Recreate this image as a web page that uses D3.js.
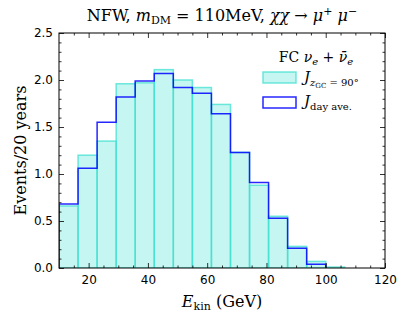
<!DOCTYPE html>
<html>
<head>
<meta charset="utf-8">
<script src="https://cdn.jsdelivr.net/npm/d3@7"></script>
<style>
  body { margin: 0; background: #fff; }
  svg text { fill: #000; }
  .serif { font-family: "DejaVu Serif", "Liberation Serif", serif; }
  .tick text { font-family: "DejaVu Sans", sans-serif; font-size: 12px; }
</style>
</head>
<body>
<div id="chart"></div>
<script>
// bin edges in GeV (15 bins)
const binEdges = [10, 16.43, 22.86, 29.29, 35.71, 42.14, 48.57, 55, 61.43, 67.86, 74.29, 80.71, 87.14, 93.57, 100, 106.43];
// events / 20 years, J at zGC = 90 deg (filled)
const eventsZgc90 = [0.66, 1.20, 1.35, 1.96, 1.97, 2.11, 2.00, 1.92, 1.74, 1.23, 0.88, 0.55, 0.23, 0.07, 0.01];
// events / 20 years, day averaged J (step)
const eventsDayAve = [0.68, 1.06, 1.55, 1.82, 1.99, 2.07, 1.92, 1.86, 1.64, 1.23, 0.91, 0.53, 0.21, 0.04];
const xMajorTicks = [20, 40, 60, 80, 100, 120];
const xMinorTicks = [15, 25, 30, 35, 45, 50, 55, 65, 70, 75, 85, 90, 95, 105, 110, 115];
const yMajorTicks = [0, 0.5, 1.0, 1.5, 2.0, 2.5];
const yMinorTicks = [0.1, 0.2, 0.3, 0.4, 0.6, 0.7, 0.8, 0.9, 1.1, 1.2, 1.3, 1.4, 1.6, 1.7, 1.8, 1.9, 2.1, 2.2, 2.3, 2.4];

const width = 407, height = 320;
const margin = { top: 33, right: 22, bottom: 52, left: 59 };
const innerW = width - margin.left - margin.right;
const innerH = height - margin.top - margin.bottom;

const cyanFill = '#40e0d0';
const blueLine = '#0000ff';

const svg = d3.select('#chart').append('svg')
    .attr('width', width)
    .attr('height', height);

const x = d3.scaleLinear().domain([10, 120]).range([0, innerW]);
const y = d3.scaleLinear().domain([0, 2.5]).range([innerH, 0]);

const g = svg.append('g')
    .attr('transform', `translate(${margin.left},${margin.top})`);

g.append('clipPath').attr('id', 'plotClip')
    .append('rect').attr('width', innerW).attr('height', innerH);

const plot = g.append('g').attr('clip-path', 'url(#plotClip)');

// filled histogram
plot.selectAll('.bar')
    .data(eventsZgc90)
    .join('rect')
    .attr('class', 'bar')
    .attr('x', (d, i) => x(binEdges[i]))
    .attr('width', (d, i) => x(binEdges[i + 1]) - x(binEdges[i]))
    .attr('y', d => y(d))
    .attr('height', d => y(0) - y(d))
    .attr('fill', cyanFill)
    .attr('fill-opacity', 0.3)
    .attr('stroke', cyanFill)
    .attr('stroke-opacity', 0.75)
    .attr('stroke-width', 1.5);

// step histogram
const stepPts = [[binEdges[0], 0]];
eventsDayAve.forEach((v, i) => stepPts.push([binEdges[i], v]));
const nB = eventsDayAve.length;
stepPts.push([binEdges[nB], eventsDayAve[nB - 1]]);
stepPts.push([binEdges[nB], 0]);

const stepLine = d3.line()
    .x(d => x(d[0]))
    .y(d => y(d[1]))
    .curve(d3.curveStepAfter);

plot.append('path')
    .datum(stepPts)
    .attr('fill', 'none')
    .attr('stroke', blueLine)
    .attr('stroke-opacity', 0.85)
    .attr('stroke-width', 1.5)
    .attr('d', stepLine);

// axes, ticks inward on all sides
function styleAxis(sel) {
    sel.select('.domain').remove();
    sel.selectAll('.tick line').attr('stroke', '#000').attr('stroke-width', 0.8);
}
g.append('g').attr('transform', `translate(0,${innerH})`)
    .call(d3.axisBottom(x).tickValues(xMajorTicks).tickSize(-5).tickPadding(7).tickFormat(d3.format('d')))
    .call(styleAxis);
g.append('g').attr('transform', `translate(0,${innerH})`)
    .call(d3.axisBottom(x).tickValues(xMinorTicks).tickSize(-2.5).tickFormat(''))
    .call(styleAxis);
g.append('g')
    .call(d3.axisTop(x).tickValues(xMajorTicks).tickSize(-5).tickFormat(''))
    .call(styleAxis);
g.append('g')
    .call(d3.axisTop(x).tickValues(xMinorTicks).tickSize(-2.5).tickFormat(''))
    .call(styleAxis);
g.append('g')
    .call(d3.axisLeft(y).tickValues(yMajorTicks).tickSize(-5).tickPadding(6).tickFormat(d3.format('.1f')))
    .call(styleAxis);
g.append('g')
    .call(d3.axisLeft(y).tickValues(yMinorTicks).tickSize(-2.5).tickFormat(''))
    .call(styleAxis);
g.append('g').attr('transform', `translate(${innerW},0)`)
    .call(d3.axisRight(y).tickValues(yMajorTicks).tickSize(-5).tickFormat(''))
    .call(styleAxis);
g.append('g').attr('transform', `translate(${innerW},0)`)
    .call(d3.axisRight(y).tickValues(yMinorTicks).tickSize(-2.5).tickFormat(''))
    .call(styleAxis);

g.append('rect')
    .attr('width', innerW).attr('height', innerH)
    .attr('fill', 'none').attr('stroke', '#000').attr('stroke-width', 1);

// title
const title = svg.append('text').attr('class', 'serif')
    .attr('x', margin.left + innerW / 2).attr('y', 21)
    .attr('text-anchor', 'middle').style('font-size', '16px');
title.append('tspan').text('NFW, ');
title.append('tspan').style('font-style', 'italic').text('m');
title.append('tspan').attr('dy', 3).style('font-size', '11px').text('DM');
title.append('tspan').attr('dy', -3).text(' = 110MeV, ');
title.append('tspan').style('font-style', 'italic').text('χχ');
title.append('tspan').text(' → ');
title.append('tspan').style('font-style', 'italic').text('μ');
title.append('tspan').attr('dy', -6).style('font-size', '11px').text('+');
title.append('tspan').attr('dy', 6).text(' ');
title.append('tspan').style('font-style', 'italic').text('μ');
title.append('tspan').attr('dy', -6).style('font-size', '11px').text('−');

// axis labels
const xl = svg.append('text').attr('class', 'serif')
    .attr('x', margin.left + innerW / 2).attr('y', 307)
    .attr('text-anchor', 'middle').style('font-size', '16px');
xl.append('tspan').style('font-style', 'italic').text('E');
xl.append('tspan').attr('dy', 3).style('font-size', '11px').text('kin');
xl.append('tspan').attr('dy', -3).text(' (GeV)');

svg.append('text').attr('class', 'serif')
    .attr('transform', `translate(26,${margin.top + innerH / 2}) rotate(-90)`)
    .attr('text-anchor', 'middle').style('font-size', '16px')
    .text('Events/20 years');

// legend
const leg = svg.append('g');
const lt = leg.append('text').attr('class', 'serif')
    .attr('x', 316).attr('y', 62).attr('text-anchor', 'middle').style('font-size', '14px');
lt.append('tspan').text('FC ');
lt.append('tspan').style('font-style', 'italic').text('ν');
lt.append('tspan').attr('dy', 3).style('font-size', '10px').style('font-style', 'italic').text('e');
lt.append('tspan').attr('dy', -3).text(' + ');
lt.append('tspan').style('font-style', 'italic').text('ν̄');
lt.append('tspan').attr('dy', 3).style('font-size', '10px').style('font-style', 'italic').text('e');

leg.append('rect').attr('x', 263).attr('y', 72).attr('width', 33).attr('height', 11)
    .attr('fill', cyanFill).attr('fill-opacity', 0.3)
    .attr('stroke', cyanFill).attr('stroke-opacity', 0.75).attr('stroke-width', 1.5);
leg.append('rect').attr('x', 263).attr('y', 97).attr('width', 33).attr('height', 11)
    .attr('fill', 'none')
    .attr('stroke', blueLine).attr('stroke-opacity', 0.85).attr('stroke-width', 1.5);

const l1 = leg.append('text').attr('class', 'serif')
    .attr('x', 304).attr('y', 82).style('font-size', '15px');
l1.append('tspan').style('font-style', 'italic').text('J');
l1.append('tspan').attr('dy', 4).style('font-size', '10px').style('font-style', 'italic').text('z');
l1.append('tspan').attr('dy', 2).style('font-size', '7px').text('GC');
l1.append('tspan').attr('dy', -2).style('font-size', '10px').text(' = 90°');

const l2 = leg.append('text').attr('class', 'serif')
    .attr('x', 304).attr('y', 106).style('font-size', '15px');
l2.append('tspan').style('font-style', 'italic').text('J');
l2.append('tspan').attr('dy', 4).style('font-size', '10px').text('day ave.');
</script>
</body>
</html>
